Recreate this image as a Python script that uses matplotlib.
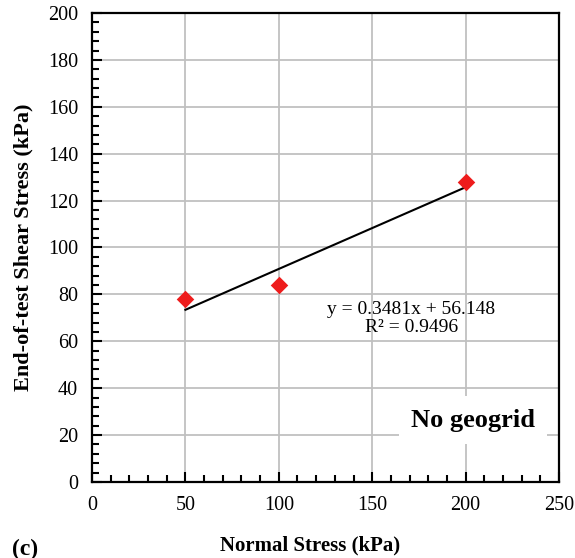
import matplotlib.pyplot as plt
from matplotlib.ticker import MultipleLocator
import numpy as np

plt.rcParams['font.family'] = ['Liberation Serif', 'DejaVu Serif']

# data
normal_stress = [50, 100, 200]
shear_stress = [78, 84, 128]
eq_text = 'y = 0.3481x + 56.148\nR² = 0.9496'
box_text = 'No geogrid'

fig = plt.figure(figsize=(5.75, 5.58), dpi=100)
ax = fig.add_axes([92/575, 1 - 482/558, 467/575, 469/558])

# trend line
coef = np.polyfit(normal_stress, shear_stress, 1)
xl = np.array([min(normal_stress), max(normal_stress)])
ax.plot(xl, np.polyval(coef, xl), color='black', lw=1.5, zorder=3)

ax.scatter(normal_stress, shear_stress, marker='D', s=80, color='#ee1c1c',
           zorder=4, linewidths=0)

ax.set_xlim(0, 250)
ax.set_ylim(0, 200)
ax.xaxis.set_major_locator(MultipleLocator(50))
ax.xaxis.set_minor_locator(MultipleLocator(10))
ax.yaxis.set_major_locator(MultipleLocator(20))
ax.yaxis.set_minor_locator(MultipleLocator(4))
ax.tick_params(which='both', direction='in', labelsize=14.5, width=1.5,
               top=False, right=False)
ax.tick_params(which='major', length=7)
ax.tick_params(which='minor', length=5)
ax.tick_params(axis='x', pad=10)
ax.tick_params(axis='y', pad=10)
ax.grid(True, color='#c0c0c0', lw=1.3, zorder=0)
ax.set_axisbelow(True)
for s in ax.spines.values():
    s.set_linewidth(1.6)

ax.text(171, 77, eq_text, ha='center', va='top', fontsize=14,
        linespacing=1.05)
ax.text(204, 26.4, box_text, ha='center', va='center', fontsize=19,
        fontweight='bold', zorder=5,
        bbox=dict(facecolor='white', edgecolor='none', pad=9))

ax.set_ylabel('End-of-test Shear Stress (kPa)', fontsize=16,
              fontweight='bold', labelpad=10)
fig.text(310/575, 1 - 545/558, 'Normal Stress (kPa)', ha='center',
         va='center', fontsize=15, fontweight='bold')
fig.text(12/575, 1 - 549/558, '(c)', ha='left', va='center', fontsize=17,
         fontweight='bold')

fig.savefig('out.png', dpi=100)
